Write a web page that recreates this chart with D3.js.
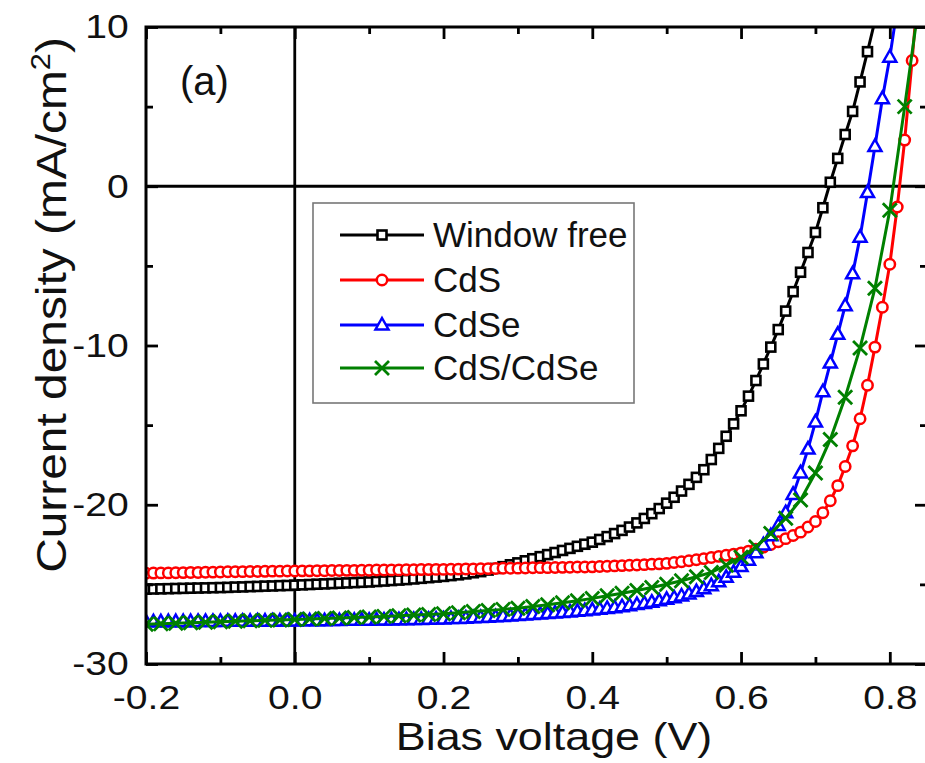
<!DOCTYPE html>
<html>
<head>
<meta charset="utf-8">
<script src="https://cdn.jsdelivr.net/npm/d3@7"></script>
<style>
  body { margin: 0; background: #fff; }
  svg { display: block; }
  text { font-family: "Liberation Sans", Arial, "Helvetica", sans-serif; fill: #111; }
</style>
</head>
<body>
<svg id="jv"></svg>
<script>
'use strict';

let WIDTH = 925;
let HEIGHT = 763;

// bias voltage grids (V): 10 mV sweep, and 20 mV for the CdS/CdSe cell
let VOLTS_10MV = [
  -0.20,-0.19,-0.18,-0.17,-0.16,-0.15,-0.14,-0.13,-0.12,-0.11,
  -0.10,-0.09,-0.08,-0.07,-0.06,-0.05,-0.04,-0.03,-0.02,-0.01,
   0.00, 0.01, 0.02, 0.03, 0.04, 0.05, 0.06, 0.07, 0.08, 0.09,
   0.10, 0.11, 0.12, 0.13, 0.14, 0.15, 0.16, 0.17, 0.18, 0.19,
   0.20, 0.21, 0.22, 0.23, 0.24, 0.25, 0.26, 0.27, 0.28, 0.29,
   0.30, 0.31, 0.32, 0.33, 0.34, 0.35, 0.36, 0.37, 0.38, 0.39,
   0.40, 0.41, 0.42, 0.43, 0.44, 0.45, 0.46, 0.47, 0.48, 0.49,
   0.50, 0.51, 0.52, 0.53, 0.54, 0.55, 0.56, 0.57, 0.58, 0.59,
   0.60, 0.61, 0.62, 0.63, 0.64, 0.65, 0.66, 0.67, 0.68, 0.69,
   0.70, 0.71, 0.72, 0.73, 0.74, 0.75, 0.76, 0.77, 0.78, 0.79,
   0.80, 0.81, 0.82, 0.83, 0.84
];
let VOLTS_20MV = [
  -0.20,-0.18,-0.16,-0.14,-0.12,-0.10,-0.08,-0.06,-0.04,-0.02,
   0.00, 0.02, 0.04, 0.06, 0.08, 0.10, 0.12, 0.14, 0.16, 0.18,
   0.20, 0.22, 0.24, 0.26, 0.28, 0.30, 0.32, 0.34, 0.36, 0.38,
   0.40, 0.42, 0.44, 0.46, 0.48, 0.50, 0.52, 0.54, 0.56, 0.58,
   0.60, 0.62, 0.64, 0.66, 0.68, 0.70, 0.72, 0.74, 0.76, 0.78,
   0.80, 0.82, 0.84
];

// current density (mA/cm2)
let J_WINDOW_FREE = [
  -25.30,-25.29,-25.28,-25.27,-25.26,-25.25,-25.24,-25.23,-25.22,-25.21,
  -25.20,-25.19,-25.17,-25.16,-25.14,-25.13,-25.11,-25.10,-25.08,-25.07,
  -25.05,-25.03,-25.01,-24.99,-24.97,-24.95,-24.93,-24.91,-24.89,-24.87,
  -24.85,-24.82,-24.79,-24.76,-24.73,-24.70,-24.66,-24.62,-24.58,-24.54,
  -24.50,-24.45,-24.40,-24.34,-24.27,-24.20,-24.10,-24.00,-23.89,-23.77,
  -23.65,-23.52,-23.39,-23.26,-23.13,-23.00,-22.87,-22.74,-22.61,-22.48,
  -22.35,-22.18,-22.00,-21.81,-21.61,-21.40,-21.14,-20.86,-20.56,-20.24,
  -19.90,-19.53,-19.14,-18.72,-18.28,-17.80,-17.16,-16.46,-15.70,-14.92,
  -14.10,-13.18,-12.20,-11.16,-10.10, -9.00, -7.84, -6.62, -5.40, -4.16,
   -2.90, -1.35,  0.25,  1.75,  3.25,  4.70,  6.55,  8.45, 10.40
];
let J_CDS = [
  -24.30,-24.29,-24.28,-24.28,-24.27,-24.26,-24.25,-24.25,-24.24,-24.23,
  -24.22,-24.21,-24.21,-24.20,-24.19,-24.19,-24.18,-24.17,-24.17,-24.16,
  -24.16,-24.15,-24.15,-24.14,-24.14,-24.13,-24.13,-24.12,-24.12,-24.11,
  -24.11,-24.10,-24.10,-24.09,-24.09,-24.08,-24.08,-24.07,-24.07,-24.06,
  -24.06,-24.05,-24.04,-24.03,-24.03,-24.02,-24.01,-24.00,-23.99,-23.99,
  -23.98,-23.97,-23.96,-23.95,-23.95,-23.94,-23.93,-23.92,-23.91,-23.91,
  -23.90,-23.88,-23.86,-23.84,-23.82,-23.80,-23.78,-23.76,-23.73,-23.71,
  -23.68,-23.63,-23.58,-23.52,-23.45,-23.38,-23.31,-23.24,-23.17,-23.10,
  -23.02,-22.91,-22.79,-22.66,-22.50,-22.32,-22.13,-21.93,-21.72,-21.40,
  -21.05,-20.50,-19.75,-18.80,-17.60,-16.30,-14.60,-12.50,-10.10, -7.60,
   -4.90, -1.30,  2.90,  7.90, 13.50
];
let J_CDSE = [
  -27.35,-27.35,-27.35,-27.34,-27.34,-27.34,-27.34,-27.33,-27.33,-27.33,
  -27.33,-27.32,-27.32,-27.32,-27.32,-27.31,-27.31,-27.31,-27.30,-27.30,
  -27.30,-27.29,-27.29,-27.28,-27.28,-27.27,-27.27,-27.26,-27.26,-27.25,
  -27.25,-27.24,-27.24,-27.23,-27.22,-27.22,-27.21,-27.20,-27.19,-27.18,
  -27.17,-27.15,-27.14,-27.12,-27.10,-27.08,-27.06,-27.04,-27.01,-26.98,
  -26.95,-26.92,-26.89,-26.86,-26.83,-26.80,-26.77,-26.73,-26.69,-26.65,
  -26.61,-26.56,-26.51,-26.46,-26.40,-26.34,-26.27,-26.20,-26.12,-26.03,
  -25.94,-25.84,-25.73,-25.60,-25.45,-25.28,-25.08,-24.84,-24.56,-24.24,
  -23.88,-23.48,-23.02,-22.52,-21.95,-21.30,-20.50,-19.35,-18.00,-16.50,
  -14.80,-12.90,-11.10, -9.30, -7.50, -5.50, -3.20, -0.40,  2.50,  5.50,
    8.10, 11.20
];
let J_CDS_CDSE = [
  -27.50,-27.47,-27.44,-27.41,-27.38,-27.35,-27.32,-27.29,-27.26,-27.23,
  -27.20,-27.17,-27.14,-27.11,-27.08,-27.05,-27.01,-26.97,-26.93,-26.89,
  -26.85,-26.78,-26.71,-26.64,-26.57,-26.50,-26.39,-26.28,-26.16,-26.03,
  -25.88,-25.72,-25.56,-25.39,-25.20,-24.99,-24.77,-24.52,-24.25,-23.80,
  -23.30,-22.65,-21.80,-20.85,-19.70,-18.00,-15.90,-13.25,-10.15, -6.40,
   -1.50,  5.00, 11.80
];

let SERIES_NAMES = ['Window free', 'CdS', 'CdSe', 'CdS/CdSe'];
let SERIES_COLORS = ['#000000', '#ff0000', '#0000ff', '#008000'];
let SERIES_MARKERS = ['square', 'circle', 'triangle', 'cross'];

let X_TICKS = [-0.2, 0.0, 0.2, 0.4, 0.6, 0.8];
let X_MINOR = [-0.1, 0.1, 0.3, 0.5, 0.7];
let Y_TICKS = [-30, -20, -10, 0, 10];
let Y_MINOR = [-25, -15, -5, 5];

let series = [
  { volts: VOLTS_10MV, amps: J_WINDOW_FREE },
  { volts: VOLTS_10MV, amps: J_CDS },
  { volts: VOLTS_10MV, amps: J_CDSE },
  { volts: VOLTS_20MV, amps: J_CDS_CDSE }
].map(function(s, k) {
  return {
    name: SERIES_NAMES[k],
    color: SERIES_COLORS[k],
    marker: SERIES_MARKERS[k],
    points: s.amps.map(function(j, i) { return { v: s.volts[i], j: j }; })
  };
});

let PLOT = { left: 146, top: 27, right: 927, bottom: 664 };
let TEXT_STRETCH = 1.15;

let svg = d3.select('#jv').attr('width', WIDTH).attr('height', HEIGHT);

let x = d3.scaleLinear().domain([-0.2, 0.85]).range([PLOT.left, PLOT.right]);
let y = d3.scaleLinear().domain([-30, 10]).range([PLOT.bottom, PLOT.top]);

svg.append('clipPath').attr('id', 'plot-clip')
  .append('rect')
  .attr('x', PLOT.left).attr('y', PLOT.top)
  .attr('width', PLOT.right - PLOT.left).attr('height', PLOT.bottom - PLOT.top);

// zero reference lines
svg.append('line')
  .attr('x1', x(0)).attr('x2', x(0)).attr('y1', PLOT.top).attr('y2', PLOT.bottom)
  .attr('stroke', '#000').attr('stroke-width', 2.8);
svg.append('line')
  .attr('x1', PLOT.left).attr('x2', PLOT.right).attr('y1', y(0)).attr('y2', y(0))
  .attr('stroke', '#000').attr('stroke-width', 2.8);

// open symbol drawn at (cx, cy)
function drawMarker(g, type, cx, cy, color) {
  if (type === 'square') {
    g.append('rect').attr('x', cx - 4.5).attr('y', cy - 4.5).attr('width', 9).attr('height', 9)
      .attr('fill', '#fff').attr('stroke', color).attr('stroke-width', 2.6);
  } else if (type === 'circle') {
    g.append('circle').attr('cx', cx).attr('cy', cy).attr('r', 5.2)
      .attr('fill', '#fff').attr('stroke', color).attr('stroke-width', 2.5);
  } else if (type === 'triangle') {
    let p = d3.path();
    p.moveTo(cx, cy - 7); p.lineTo(cx + 6.5, cy + 4.5); p.lineTo(cx - 6.5, cy + 4.5); p.closePath();
    g.append('path').attr('d', p.toString())
      .attr('fill', '#fff').attr('stroke', color).attr('stroke-width', 2.5).attr('stroke-linejoin', 'miter');
  } else {
    let p = d3.path();
    p.moveTo(cx - 7, cy - 7); p.lineTo(cx + 7, cy + 7);
    p.moveTo(cx + 7, cy - 7); p.lineTo(cx - 7, cy + 7);
    g.append('path').attr('d', p.toString())
      .attr('fill', 'none').attr('stroke', color).attr('stroke-width', 2.8);
  }
}

let line = d3.line().x(function(d) { return x(d.v); }).y(function(d) { return y(d.j); });

let curves = svg.append('g').attr('clip-path', 'url(#plot-clip)');
series.forEach(function(s) {
  let g = curves.append('g');
  g.append('path').datum(s.points)
    .attr('d', line).attr('fill', 'none')
    .attr('stroke', s.color).attr('stroke-width', 3);
  s.points.forEach(function(d) {
    drawMarker(g, s.marker, x(d.v), y(d.j), s.color);
  });
});

// axes: ticks point into the frame
function styleAxis(g) {
  g.select('.domain').remove();
  g.selectAll('.tick line').attr('stroke', '#000').attr('stroke-width', 2.8);
}

let fmtX = function(d) { return d.toFixed(1); };
let fmtY = function(d) { return String(d); };

let bottom = svg.append('g').attr('transform', 'translate(0,' + PLOT.bottom + ')')
  .call(d3.axisBottom(x).tickValues(X_TICKS).tickSize(-12).tickPadding(21).tickFormat(fmtX));
bottom.call(styleAxis);
bottom.selectAll('text').attr('font-size', 34).attr('fill', '#111')
  .attr('transform', 'scale(' + TEXT_STRETCH + ',1)');
svg.append('g').attr('transform', 'translate(0,' + PLOT.bottom + ')')
  .call(d3.axisBottom(x).tickValues(X_MINOR).tickSize(-7).tickFormat(''))
  .call(styleAxis);

svg.append('g').attr('transform', 'translate(0,' + PLOT.top + ')')
  .call(d3.axisTop(x).tickValues(X_TICKS).tickSize(-12).tickFormat(''))
  .call(styleAxis);
svg.append('g').attr('transform', 'translate(0,' + PLOT.top + ')')
  .call(d3.axisTop(x).tickValues(X_MINOR).tickSize(-7).tickFormat(''))
  .call(styleAxis);

let left = svg.append('g').attr('transform', 'translate(' + PLOT.left + ',0)')
  .call(d3.axisLeft(y).tickValues(Y_TICKS).tickSize(-12).tickPadding(15).tickFormat(fmtY));
left.call(styleAxis);
left.selectAll('text').attr('font-size', 34).attr('fill', '#111')
  .attr('transform', 'scale(' + TEXT_STRETCH + ',1)');
svg.append('g').attr('transform', 'translate(' + PLOT.left + ',0)')
  .call(d3.axisLeft(y).tickValues(Y_MINOR).tickSize(-7).tickFormat(''))
  .call(styleAxis);

svg.append('g').attr('transform', 'translate(' + PLOT.right + ',0)')
  .call(d3.axisRight(y).tickValues(Y_TICKS).tickSize(-12).tickFormat(''))
  .call(styleAxis);
svg.append('g').attr('transform', 'translate(' + PLOT.right + ',0)')
  .call(d3.axisRight(y).tickValues(Y_MINOR).tickSize(-7).tickFormat(''))
  .call(styleAxis);

// frame
svg.append('rect')
  .attr('x', PLOT.left).attr('y', PLOT.top)
  .attr('width', PLOT.right - PLOT.left).attr('height', PLOT.bottom - PLOT.top)
  .attr('fill', 'none').attr('stroke', '#000').attr('stroke-width', 3);

// axis titles
svg.append('text')
  .attr('transform', 'translate(554,750) scale(1.18,1)')
  .attr('text-anchor', 'middle').attr('font-size', 38)
  .text('Bias voltage (V)');

let yTitle = svg.append('text')
  .attr('transform', 'translate(66,305) rotate(-90) scale(1.14,1)')
  .attr('text-anchor', 'middle').attr('font-size', 42);
yTitle.append('tspan').text('Current density (mA/cm');
yTitle.append('tspan').attr('font-size', 27).attr('dy', -16).text('2');
yTitle.append('tspan').attr('dy', 16).text(')');

svg.append('text').attr('x', 180).attr('y', 95).attr('font-size', 40).text('(a)');

// legend
let legend = svg.append('g');
legend.append('rect')
  .attr('x', 313).attr('y', 203).attr('width', 321).attr('height', 200)
  .attr('fill', '#fff').attr('stroke', '#777').attr('stroke-width', 1.6);
let rowY = [235, 280, 325, 368];
series.forEach(function(s, k) {
  let g = legend.append('g');
  g.append('line').attr('x1', 340).attr('x2', 424).attr('y1', rowY[k]).attr('y2', rowY[k])
    .attr('stroke', s.color).attr('stroke-width', 3);
  drawMarker(g, s.marker, 382, rowY[k], s.color);
  g.append('text').attr('x', 433).attr('y', rowY[k] + 12).attr('font-size', 35).text(s.name);
});
</script>
</body>
</html>
